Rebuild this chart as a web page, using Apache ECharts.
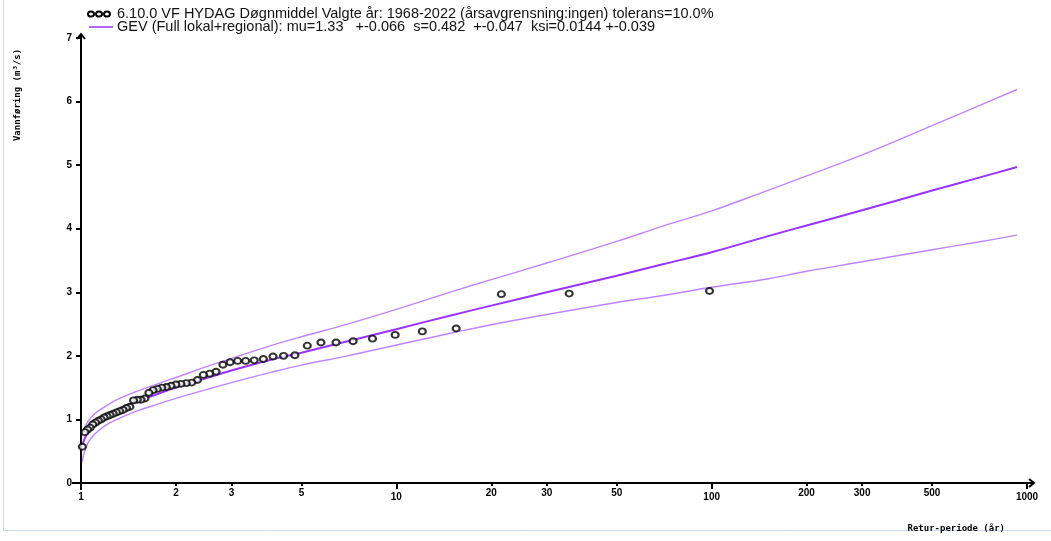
<!DOCTYPE html>
<html>
<head>
<meta charset="utf-8">
<script src="https://cdn.jsdelivr.net/npm/echarts@6/dist/echarts.min.js"></script>
<style>
  html, body { margin: 0; padding: 0; background: #ffffff; }
  #chart { width: 1051px; height: 541px; }
</style>
</head>
<body>
<div id="chart"></div>
<script>
// Annual maximum daily-mean discharge 1968-2022, sorted, at their plotting-position return periods (years)
const obsReturnPeriod = [98.43, 35.33, 21.53, 15.48, 12.09, 9.914, 8.402, 7.291, 6.439, 5.766,
  5.220, 4.768, 4.389, 4.065, 3.786, 3.542, 3.329, 3.139, 2.970, 2.818,
  2.681, 2.557, 2.443, 2.340, 2.244, 2.157, 2.075, 2.000, 1.930, 1.865,
  1.804, 1.747, 1.693, 1.642, 1.595, 1.550, 1.508, 1.468, 1.429, 1.393,
  1.359, 1.326, 1.295, 1.265, 1.237, 1.210, 1.184, 1.159, 1.135, 1.112,
  1.090, 1.069, 1.049, 1.029, 1.010];
const obsFlow = [3.02, 2.98, 2.97, 2.43, 2.385, 2.33, 2.27, 2.23, 2.21, 2.21,
  2.16, 2.01, 2.00, 1.99, 1.95, 1.93, 1.92, 1.92, 1.90, 1.86,
  1.75, 1.72, 1.70, 1.62, 1.58, 1.57, 1.56, 1.55, 1.53, 1.51,
  1.50, 1.48, 1.46, 1.42, 1.33, 1.31, 1.31, 1.30, 1.20, 1.18,
  1.15, 1.13, 1.11, 1.09, 1.07, 1.05, 1.03, 1.00, 0.98, 0.95,
  0.92, 0.87, 0.84, 0.80, 0.57];

// Fitted GEV quantile curve with its upper and lower confidence limits
const fitReturnPeriod = [1.01, 1.02, 1.05, 1.1, 1.2, 1.3, 1.5, 1.75, 2, 2.5, 3, 4, 5, 7, 10,
  15, 20, 30, 50, 70, 100, 150, 200, 300, 500, 700, 930];
const fitCentral = [0.58, 0.66, 0.79, 0.91, 1.05, 1.15, 1.28, 1.40, 1.50, 1.65, 1.77, 1.94, 2.05, 2.23, 2.42,
  2.64, 2.79, 3.00, 3.26, 3.44, 3.63, 3.88, 4.05, 4.29, 4.60, 4.80, 4.97];
const fitUpper = [0.74, 0.83, 0.96, 1.08, 1.21, 1.31, 1.44, 1.56, 1.66, 1.83, 1.96, 2.16, 2.30, 2.50, 2.73,
  3.01, 3.20, 3.46, 3.80, 4.04, 4.28, 4.60, 4.83, 5.16, 5.62, 5.93, 6.19];
const fitLower = [0.33, 0.45, 0.62, 0.76, 0.91, 1.00, 1.13, 1.24, 1.33, 1.47, 1.58, 1.74, 1.855, 2.00, 2.17,
  2.36, 2.49, 2.65, 2.84, 2.95, 3.08, 3.21, 3.33, 3.48, 3.67, 3.79, 3.90];

// Return-period axis tick labels
const xMajorTicks = [1, 10, 100, 1000];
const xMinorTicks = [2, 3, 5, 20, 30, 50, 200, 300, 500];

const legendObs = '6.10.0 VF HYDAG Døgnmiddel Valgte år: 1968-2022 (årsavgrensning:ingen) tolerans=10.0%';
const legendFit = 'GEV (Full lokal+regional): mu=1.33   +-0.066  s=0.482  +-0.047  ksi=0.0144 +-0.039';
const yAxisTitle = 'Vannføring (m³/s)';
const xAxisTitle = 'Retur-periode (år)';

const pairs = (xs, ys) => xs.map((x, i) => [x, ys[i]]);

const AXIS = '#000000';
const FIT_MAIN = '#9933ff';
const FIT_BAND = '#c084ff';
const tickFont = { fontFamily: 'Liberation Sans, Arial, sans-serif', fontSize: 10, fontWeight: 'bold', color: '#000' };
const toPeriod = v => String(Math.round(Math.pow(10, v)));

const chart = echarts.init(document.getElementById('chart'), null, { renderer: 'canvas' });

const option = {
  animation: false,
  backgroundColor: '#ffffff',
  grid: { left: 81, right: 24, top: 38, bottom: 58, containLabel: false },
  xAxis: [
    {
      type: 'log', logBase: 10, min: 1, max: 1000,
      axisLine: { show: true, lineStyle: { color: AXIS, width: 2 } },
      axisTick: { show: false }, axisLabel: { show: false }, splitLine: { show: false }
    },
    {
      // minor return-period ticks, placed in log10 space
      type: 'value', min: 0, max: 3, position: 'bottom',
      axisLine: { show: false }, splitLine: { show: false },
      axisTick: { show: true, length: 3, customValues: xMinorTicks.map(Math.log10), lineStyle: { color: AXIS, width: 2 } },
      axisLabel: { show: true, margin: 5, customValues: xMinorTicks.map(Math.log10), formatter: toPeriod, ...tickFont }
    },
    {
      // decade ticks
      type: 'value', min: 0, max: 3, position: 'bottom',
      axisLine: { show: false }, splitLine: { show: false },
      axisTick: { show: true, length: 6, customValues: xMajorTicks.map(Math.log10), lineStyle: { color: AXIS, width: 2 } },
      axisLabel: { show: true, margin: 9, customValues: xMajorTicks.map(Math.log10), formatter: toPeriod, ...tickFont }
    }
  ],
  yAxis: {
    type: 'value', min: 0, max: 7, interval: 1,
    axisLine: { show: true, lineStyle: { color: AXIS, width: 2 } },
    axisTick: { show: true, length: 5, lineStyle: { color: AXIS, width: 2 } },
    axisLabel: { margin: 9, ...tickFont },
    splitLine: { show: false }
  },
  series: [
    {
      name: 'upper', type: 'line', xAxisIndex: 0, data: pairs(fitReturnPeriod, fitUpper),
      showSymbol: false, smooth: 0.4, z: 2,
      lineStyle: { color: FIT_BAND, width: 1.4 }
    },
    {
      name: 'lower', type: 'line', xAxisIndex: 0, data: pairs(fitReturnPeriod, fitLower),
      showSymbol: false, smooth: 0.4, z: 2,
      lineStyle: { color: FIT_BAND, width: 1.4 }
    },
    {
      name: 'GEV', type: 'line', xAxisIndex: 0, data: pairs(fitReturnPeriod, fitCentral),
      showSymbol: false, smooth: 0.4, z: 3,
      lineStyle: { color: FIT_MAIN, width: 2 }
    },
    {
      name: 'obs', type: 'scatter', xAxisIndex: 0, data: pairs(obsReturnPeriod, obsFlow),
      symbol: 'circle', symbolSize: [7, 6], z: 4,
      itemStyle: { color: '#ffffff', borderColor: '#000000', borderWidth: 2 }
    }
  ]
};

chart.setOption(option);

// Axis overhangs, arrow heads, titles and legend placed from the axes' own pixel positions
const origin = chart.convertToPixel({ xAxisIndex: 0, yAxisIndex: 0 }, [1, 0]);
const corner = chart.convertToPixel({ xAxisIndex: 0, yAxisIndex: 0 }, [1000, 7]);
const ox = origin[0], oy = origin[1], ex = corner[0], ey = corner[1];
const axisStroke = { stroke: AXIS, lineWidth: 2, fill: null };
const legendFont = '14.5px "Liberation Sans", Arial, sans-serif';

const graphics = [
  // light frame lines
  { type: 'line', shape: { x1: 3.5, y1: 0, x2: 3.5, y2: 530 }, style: { stroke: '#cdd9ee', lineWidth: 1 }, silent: true },
  { type: 'line', shape: { x1: 3.5, y1: 530.5, x2: 1051, y2: 530.5 }, style: { stroke: '#cdd9ee', lineWidth: 1 }, silent: true },
  // x axis extended both ways, with open arrow
  { type: 'line', shape: { x1: ox - 9, y1: oy, x2: ex + 7, y2: oy }, style: axisStroke },
  { type: 'polyline', shape: { points: [[ex + 2, oy - 4], [ex + 7, oy], [ex + 2, oy + 4]] }, style: axisStroke },
  // y axis extended both ways, with open arrow
  { type: 'line', shape: { x1: ox, y1: oy + 7, x2: ox, y2: ey - 4 }, style: axisStroke },
  { type: 'polyline', shape: { points: [[ox - 4, ey + 1], [ox, ey - 4], [ox + 4, ey + 1]] }, style: axisStroke },
  // axis titles
  {
    type: 'text', x: 18, y: 95, rotation: Math.PI / 2,
    style: { text: yAxisTitle, fill: '#000', font: 'bold 9px "DejaVu Sans Mono", monospace', align: 'center', verticalAlign: 'middle' }
  },
  {
    type: 'text', x: 1005, y: 529,
    style: { text: xAxisTitle, fill: '#000', font: 'bold 9px "DejaVu Sans Mono", monospace', align: 'right', verticalAlign: 'middle' }
  },
  // legend: observations
  { type: 'ellipse', shape: { cx: 91, cy: 14, rx: 3, ry: 2.6 }, style: { fill: '#fff', stroke: '#000', lineWidth: 2 } },
  { type: 'ellipse', shape: { cx: 99, cy: 14, rx: 3, ry: 2.6 }, style: { fill: '#fff', stroke: '#000', lineWidth: 2 } },
  { type: 'ellipse', shape: { cx: 107, cy: 14, rx: 3, ry: 2.6 }, style: { fill: '#fff', stroke: '#000', lineWidth: 2 } },
  {
    type: 'text', x: 117, y: 14,
    style: { text: legendObs, fill: '#111', font: legendFont, verticalAlign: 'middle' }
  },
  // legend: fitted curve
  { type: 'line', shape: { x1: 89, y1: 27, x2: 113, y2: 27 }, style: { stroke: FIT_MAIN, lineWidth: 1.5 } },
  {
    type: 'text', x: 117, y: 27,
    style: { text: legendFit, fill: '#111', font: legendFont, verticalAlign: 'middle' }
  }
];

chart.setOption({ graphic: graphics });
</script>
</body>
</html>
